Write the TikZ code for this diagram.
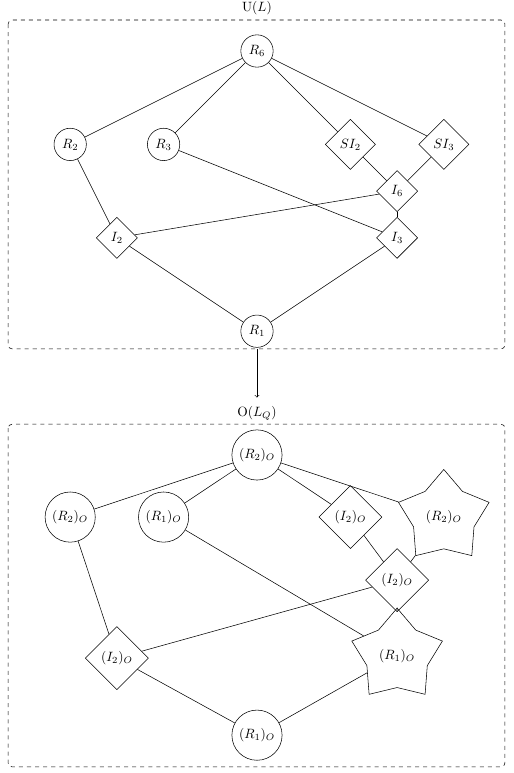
\documentclass[tikz,border=0pt]{standalone}
\usetikzlibrary{shapes.geometric}

\begin{document}
\begin{tikzpicture}[x=1.218cm,y=1.218cm,
    rnode/.style={draw,circle},
    inode/.style={draw,diamond},
    snode/.style={draw,star,star points=5,minimum size=65pt},
    lbox/.style={draw,dashed,rounded corners=3pt}]

    \useasboundingbox (-5.503,1.092) rectangle (5.482,-15.46);

    \draw[lbox] (-5.33,0.664) rectangle (5.31,-6.38);
    \node at (0,0.92) (utitle) {U$(L)$};

    \node[rnode] at (0,0) (R6) {$R_6$};
    \node[rnode] at (-4,-2) (R2) {$R_2$};
    \node[rnode] at (-2,-2) (R3) {$R_3$};
    \node[inode] at (2,-2) (SI2) {$SI_2$};
    \node[inode] at (4,-2) (SI3) {$SI_3$};
    \node[inode] at (3,-3) (I6) {$I_6$};
    \node[inode] at (-3,-4) (I2) {$I_2$};
    \node[inode] at (3,-4) (I3) {$I_3$};
    \node[rnode] at (0,-6) (R1) {$R_1$};

    \draw (R6) -- (R2);
    \draw (R6) -- (R3);
    \draw (R6) -- (SI2);
    \draw (R6) -- (SI3);
    \draw (R2) -- (I2);
    \draw (R3) -- (I3);
    \draw (SI2) -- (I6);
    \draw (SI3) -- (I6);
    \draw (I6) -- (I3);
    \draw (I6) -- (I2);
    \draw (I2) -- (R1);
    \draw (I3) -- (R1);

    \coordinate (uout) at (0,-6.38);
    \coordinate (oin) at (0,-7.42);
    \draw[->] (uout) -- (oin);

    \draw[lbox] (-5.33,-7.99) rectangle (5.31,-15.33);
    \node at (0,-7.75) (otitle) {O$(L_Q)$};

    \node[rnode] at (0,-8.65) (otop) {$(R_2)_O$};
    \node[rnode] at (-4,-9.98) (oR2) {$(R_2)_O$};
    \node[rnode] at (-2,-9.98) (oR1) {$(R_1)_O$};
    \node[inode] at (2,-9.98) (oI2a) {$(I_2)_O$};
    \node[snode] at (4,-9.98) (oR2s) {$(R_2)_O$};
    \node[inode] at (3,-11.33) (oI2m) {$(I_2)_O$};
    \node[inode] at (-3,-13) (oI2l) {$(I_2)_O$};
    \node[snode] at (3,-12.95) (oR1s) {$(R_1)_O$};
    \node[rnode] at (0,-14.65) (obot) {$(R_1)_O$};

    \draw (otop) -- (oR2);
    \draw (otop) -- (oR1);
    \draw (otop) -- (oI2a);
    \draw (otop) -- (oR2s);
    \draw (oR2) -- (oI2l);
    \draw (oR1) -- (oR1s);
    \draw (oI2a) -- (oI2m);
    \draw (oR2s) -- (oI2m);
    \draw (oI2m) -- (oI2l);
    \draw (oI2m) -- (oR1s);
    \draw (oI2l) -- (obot);
    \draw (oR1s) -- (obot);

\end{tikzpicture}
\end{document}
